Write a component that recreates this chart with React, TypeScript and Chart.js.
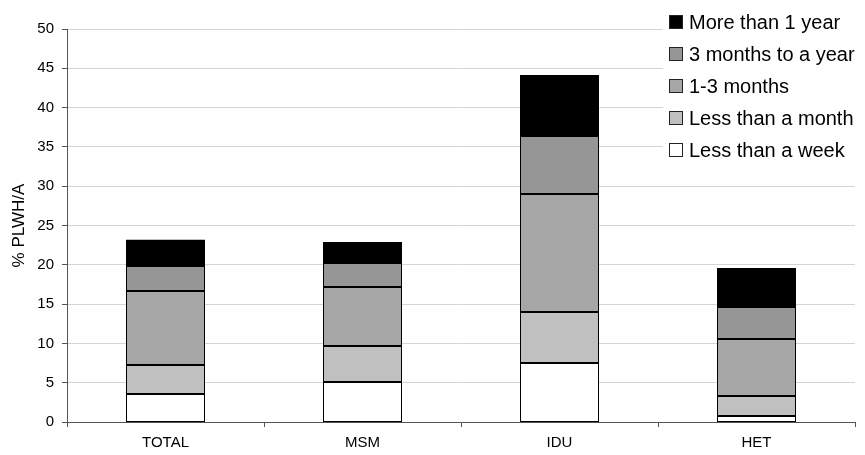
import React, { useEffect, useRef } from "react";
import { Chart, registerables } from "chart.js";

Chart.register(...registerables);

const categories = ["TOTAL", "MSM", "IDU", "HET"];
const seriesNames = [
  "Less than a week",
  "Less than a month",
  "1-3 months",
  "3 months to a year",
  "More than 1 year",
];
const lessThanWeek = [3.6, 5.1, 7.5, 0.8];
const lessThanMonth = [3.6, 4.6, 6.5, 2.5];
const oneToThreeMonths = [9.5, 7.5, 15.0, 7.3];
const threeMonthsToYear = [3.2, 3.0, 7.4, 4.0];
const moreThanYear = [3.3, 2.7, 7.7, 5.0];
const seriesColors = ["#ffffff", "#c0c0c0", "#a6a6a6", "#969696", "#000000"];
const yTicks = [0, 5, 10, 15, 20, 25, 30, 35, 40, 45, 50];

const FONT = "'Liberation Sans', Arial, sans-serif";

const outlinePlugin = {
  id: "barOutlines",
  afterDatasetsDraw(chart: any) {
    const ctx = chart.ctx;
    ctx.save();
    ctx.strokeStyle = "#000000";
    ctx.lineWidth = 1;
    chart.data.datasets.forEach((_: any, di: number) => {
      const meta = chart.getDatasetMeta(di);
      meta.data.forEach((bar: any) => {
        const p = bar.getProps(["x", "y", "base", "width"], true);
        const l = Math.round(p.x - p.width / 2) + 0.5;
        const r = Math.round(p.x + p.width / 2) - 0.5;
        const t = Math.round(Math.min(p.y, p.base)) + 0.5;
        const b = Math.round(Math.max(p.y, p.base)) - 0.5;
        ctx.strokeRect(l, t, r - l, b - t);
      });
    });
    ctx.restore();
  },
};

const legendPlugin = {
  id: "customLegend",
  afterDraw(chart: any) {
    const ctx = chart.ctx;
    ctx.save();
    ctx.fillStyle = "#ffffff";
    ctx.fillRect(663, 0, 202, 166);
    const n = chart.data.datasets.length;
    ctx.font = `20px ${FONT}`;
    ctx.textBaseline = "middle";
    ctx.textAlign = "left";
    for (let k = 0; k < n; k++) {
      const i = n - 1 - k;
      const ds = chart.data.datasets[i];
      const cy = 22 + k * 32;
      ctx.fillStyle = ds.backgroundColor;
      ctx.fillRect(669.5, cy - 6.5, 13, 13);
      ctx.strokeStyle = "#222222";
      ctx.lineWidth = 1;
      ctx.strokeRect(669.5, cy - 6.5, 13, 13);
      ctx.fillStyle = "#000000";
      ctx.fillText(ds.label, 689, cy + 1);
    }
    ctx.restore();
  },
};

export default function App() {
  const ref = useRef<HTMLCanvasElement>(null);
  useEffect(() => {
    document.body.style.margin = "0";
    const values = [lessThanWeek, lessThanMonth, oneToThreeMonths, threeMonthsToYear, moreThanYear];
    const chart = new Chart(ref.current as HTMLCanvasElement, {
      type: "bar",
      data: {
        labels: categories,
        datasets: seriesNames.map((name, i) => ({
          label: name,
          data: values[i],
          backgroundColor: seriesColors[i],
          borderWidth: 0,
          barPercentage: 0.4,
          categoryPercentage: 1.0,
        })),
      },
      options: {
        animation: false,
        responsive: false,
        maintainAspectRatio: false,
        layout: { padding: { top: 29, right: 10, left: 0, bottom: 0 } },
        plugins: { legend: { display: false }, tooltip: { enabled: false } },
        scales: {
          x: {
            stacked: true,
            offset: true,
            afterFit: (s: any) => {
              s.height = 33;
            },
            grid: {
              offset: true,
              drawOnChartArea: false,
              drawTicks: true,
              tickLength: 5,
              tickColor: "#555555",
            },
            border: { color: "#555555", width: 1 },
            ticks: { color: "#000000", font: { family: FONT, size: 15 }, padding: 7 },
          },
          y: {
            stacked: true,
            min: 0,
            max: 50,
            afterFit: (s: any) => {
              s.width = 67;
            },
            afterBuildTicks: (s: any) => {
              s.ticks = yTicks.map((v) => ({ value: v }));
            },
            grid: {
              color: "#d4d4d4",
              tickColor: "#555555",
              tickLength: 5,
            },
            border: { color: "#555555", width: 1 },
            ticks: { color: "#000000", font: { family: FONT, size: 15 }, padding: 8 },
            title: {
              display: true,
              text: "% PLWH/A",
              color: "#000000",
              font: { family: FONT, size: 17 },
              padding: { top: 9, bottom: 0 },
            },
          },
        },
      },
      plugins: [outlinePlugin, legendPlugin],
    });
    return () => chart.destroy();
  }, []);
  return (
    <div style={{ width: 865, height: 455 }}>
      <canvas ref={ref} width={865} height={455} style={{ display: "block" }} />
    </div>
  );
}
